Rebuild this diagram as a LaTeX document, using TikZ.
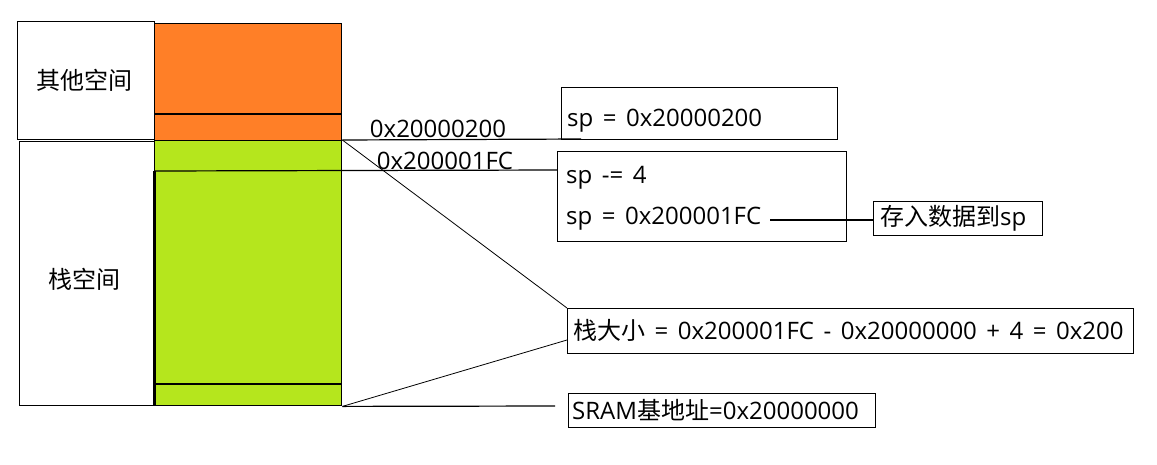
\documentclass[tikz,border=0pt]{standalone}
\usepackage{fontspec}
\setmainfont{Open Sans}
\newfontfamily\cjk{Noto Sans CJK SC}
\definecolor{orng}{RGB}{255,127,39}
\definecolor{lime}{RGB}{181,230,29}
\DeclareRobustCommand\diagfont{\fontsize{24}{28}\selectfont\spaceskip=9.5pt\relax}
\begin{document}
\begin{tikzpicture}[x=1pt,y=-1pt,
  box/.style={draw,line width=1.4pt,anchor=north west,inner sep=0pt},
  lbl/.style={inner sep=0pt,font=\diagfont},
  thin/.style={line width=0.8pt},
  conn/.style={line width=1.2pt}]
\useasboundingbox[fill=white] (0,0) rectangle (1157,464);
% left boxes
\node[box,minimum width=137pt,minimum height=118pt] (other) at (17,21) {};
\node[box,minimum width=135pt,minimum height=264pt] (stack) at (19,141) {};
\node[lbl] (otherlbl) at (84,80) {\cjk 其他空间};
\node[lbl] (stacklbl) at (84,279) {\cjk 栈空间};
% memory column
\node[box,fill=orng,minimum width=187pt,minimum height=117pt] (orange) at (154,23) {};
\node[box,fill=lime,minimum width=187pt,minimum height=265pt] (green) at (154,140) {};
\coordinate (o114l) at (154,114);
\coordinate (o114r) at (342,114);
\draw[conn] (o114l) -- (o114r);
\coordinate (g384l) at (154,384);
\coordinate (g384r) at (342,384);
\draw[conn] (g384l) -- (g384r);
\coordinate (thickTop) at (154,171);
\coordinate (thickBot) at (154,405);
\draw[line width=3pt] (thickTop) -- (thickBot);
% address labels
\node[lbl] (addrA) at (438,129) {0x20000200};
\node[lbl] (addrB) at (445,161) {0x200001FC};
% right boxes
\node[box,minimum width=276pt,minimum height=52pt] (spbox) at (561,87) {};
\node[lbl,anchor=base west] (sptext) at (567,126) {sp = 0x20000200};
\node[box,minimum width=289pt,minimum height=90pt] (decbox) at (557,151) {};
\node[lbl,anchor=base west] (dectext) at (566,183) {sp -= 4};
\node[lbl,anchor=base west] (newsp) at (566,224) {sp = 0x200001FC};
\node[box,minimum width=169pt,minimum height=34pt] (store) at (873,201) {};
\node[lbl,anchor=base west] (storetext) at (880,225) {{\cjk 存入数据到}sp};
\node[box,minimum width=566pt,minimum height=45pt] (size) at (567,308) {};
\node[lbl,anchor=west] (sizetext) at (573,330.5) {{\cjk 栈大小} = 0x200001FC - 0x20000000 + 4 = 0x200};
\node[box,minimum width=307pt,minimum height=34pt] (sram) at (568,393) {};
\node[lbl,anchor=west] (sramtext) at (572,410) {SRAM{\cjk 基地址}=0x20000000};
% connectors
\coordinate (topEnd) at (581,139);
\draw[conn] (green.north east) -- (topEnd);
\coordinate (fcEnd) at (557,170);
\draw[conn] (thickTop) -- (fcEnd);
\coordinate (storeStart) at (770,220);
\draw[conn] (storeStart) -- (store.west |- storeStart);
\draw[thin] (green.north east) -- (size.north west);
\coordinate (sizeLow) at (567,340);
\draw[thin] (green.south east) -- (sizeLow);
\coordinate (sramEnd) at (555,406);
\draw[conn] (green.south east) -- (sramEnd);
\end{tikzpicture}
\end{document}
